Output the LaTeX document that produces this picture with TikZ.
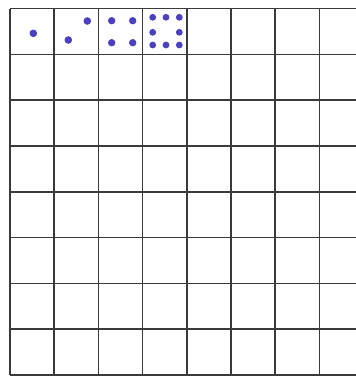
\documentclass[tikz,border=0pt]{standalone}
\usepackage{tikz}
\usetikzlibrary{calc}
\usepackage{xcolor}
\definecolor{dotblue}{HTML}{4A40C0}
\definecolor{gridgray}{HTML}{3A3A3A}

\begin{document}
\begin{tikzpicture}[
  x=1pt, y=-1pt,
  gridline/.style={draw=gridgray, line width=1.6pt},
  pip/.style={fill=dotblue}
]
  \useasboundingbox (0,0) rectangle (356,376);

  % Grid
  \foreach \i in {0,...,7}
    \draw[gridline] ({10+44.2*\i},8.5) -- ({10+44.2*\i},375);
  \foreach \j in {0,...,8}
    \draw[gridline] (10,{8.5+45.8*\j}) -- (357,{8.5+45.8*\j});

  % Dots in the first row
  \fill[pip] (33.3,33.3) circle (3.8);
  \fill[pip] (68.3,40) circle (3.8);
  \fill[pip] (87.3,21) circle (3.8);
  \foreach \x in {111.7,132.7}
    \foreach \y in {20.7,42.7}
      \fill[pip] (\x,\y) circle (3.7);
  \foreach \x/\y in {152.7/17.3, 166/17.3, 179.3/17.3, 152.7/32.3, 179.3/32.3,
                     152.7/45, 166/45, 179.3/45}
    \fill[pip] (\x,\y) circle (3.4);

\end{tikzpicture}
\end{document}
